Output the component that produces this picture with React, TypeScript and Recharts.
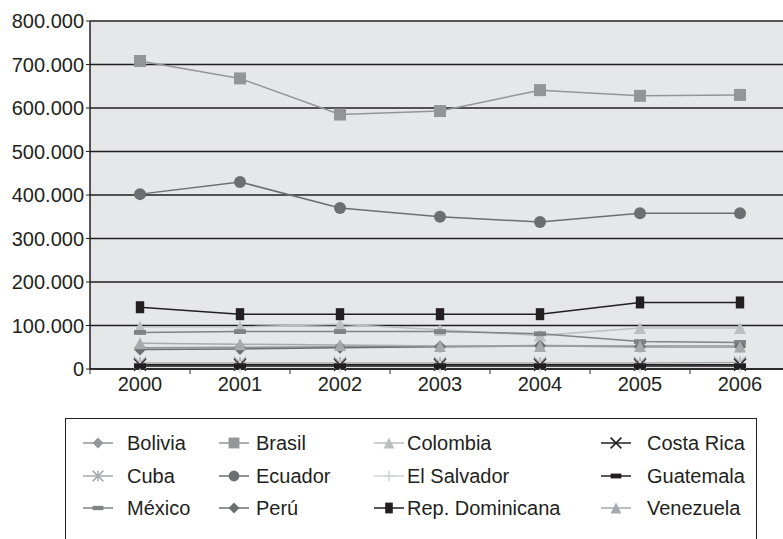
import { LineChart, Line, XAxis, YAxis, CartesianGrid, Legend } from 'recharts'

const YEARS = ['2000', '2001', '2002', '2003', '2004', '2005', '2006']
const Y_TICKS = [0, 100000, 200000, 300000, 400000, 500000, 600000, 700000, 800000]

const bolivia = [49000, 50000, 51000, 52000, 54000, 53000, 53000]
const brasil = [708000, 668000, 585000, 593000, 641000, 628000, 630000]
const colombia = [97000, 97000, 103000, 90000, 77000, 94000, 94000]
const costaRica = [10000, 10000, 10000, 10000, 10000, 10000, 10000]
const cuba = [14000, 14000, 14000, 14000, 14000, 14000, 15000]
const ecuador = [402000, 430000, 370000, 350000, 338000, 358000, 358000]
const elSalvador = [5000, 5000, 5000, 5000, 5000, 5000, 5000]
const guatemala = [7000, 7000, 7000, 7000, 7000, 7000, 7000]
const mexico = [84000, 86000, 86000, 86000, 81000, 63000, 61000]
const peru = [45000, 46000, 49000, 51000, 53000, 51000, 51000]
const repDominicana = [142000, 126000, 126000, 126000, 126000, 153000, 153000]
const venezuela = [59000, 57000, 55000, 53000, 53000, 53000, 52000]

const INK = '#231f20'
const FONT = "'Liberation Sans', Arial, sans-serif"

type Shape = 'diamond' | 'square' | 'triangle' | 'x' | 'star' | 'circle' | 'plus' | 'flat' | 'dash' | 'tall'

interface Serie {
  key: string
  name: string
  values: number[]
  color: string
  shape: Shape
}

const SERIES: Serie[] = [
  { key: 'bolivia', name: 'Bolivia', values: bolivia, color: '#939598', shape: 'diamond' },
  { key: 'brasil', name: 'Brasil', values: brasil, color: '#939598', shape: 'square' },
  { key: 'colombia', name: 'Colombia', values: colombia, color: '#bcbec0', shape: 'triangle' },
  { key: 'costaRica', name: 'Costa Rica', values: costaRica, color: INK, shape: 'x' },
  { key: 'cuba', name: 'Cuba', values: cuba, color: '#a7a9ac', shape: 'star' },
  { key: 'ecuador', name: 'Ecuador', values: ecuador, color: '#6d6e71', shape: 'circle' },
  { key: 'elSalvador', name: 'El Salvador', values: elSalvador, color: '#d1d3d4', shape: 'plus' },
  { key: 'guatemala', name: 'Guatemala', values: guatemala, color: INK, shape: 'flat' },
  { key: 'mexico', name: 'México', values: mexico, color: '#808285', shape: 'dash' },
  { key: 'peru', name: 'Perú', values: peru, color: '#6d6e71', shape: 'diamond' },
  { key: 'repDominicana', name: 'Rep. Dominicana', values: repDominicana, color: INK, shape: 'tall' },
  { key: 'venezuela', name: 'Venezuela', values: venezuela, color: '#a7a9ac', shape: 'triangle' },
]

const data = YEARS.map((year, i) => {
  const row: Record<string, string | number> = { year }
  SERIES.forEach((s) => {
    row[s.key] = s.values[i]
  })
  return row
})

// marker drawn around (cx, cy); k scales it down for the legend
function Marker({ shape, color, cx, cy, k = 1 }: { shape: Shape; color: string; cx: number; cy: number; k?: number }) {
  const s = 6 * k
  switch (shape) {
    case 'diamond':
      return <polygon points={`${cx},${cy - s} ${cx + s},${cy} ${cx},${cy + s} ${cx - s},${cy}`} fill={color} />
    case 'square':
      return <rect x={cx - s} y={cy - s} width={2 * s} height={2 * s} fill={color} />
    case 'triangle':
      return <polygon points={`${cx},${cy - s} ${cx + s},${cy + s} ${cx - s},${cy + s}`} fill={color} />
    case 'circle':
      return <circle cx={cx} cy={cy} r={s} fill={color} />
    case 'x':
      return (
        <g stroke={color} strokeWidth={1.5}>
          <line x1={cx - s} y1={cy - s} x2={cx + s} y2={cy + s} />
          <line x1={cx - s} y1={cy + s} x2={cx + s} y2={cy - s} />
        </g>
      )
    case 'plus':
      return (
        <g stroke={color} strokeWidth={1.5}>
          <line x1={cx - s} y1={cy} x2={cx + s} y2={cy} />
          <line x1={cx} y1={cy - s} x2={cx} y2={cy + s} />
        </g>
      )
    case 'star':
      return (
        <g stroke={color} strokeWidth={1.5}>
          <line x1={cx - s} y1={cy - s} x2={cx + s} y2={cy + s} />
          <line x1={cx - s} y1={cy + s} x2={cx + s} y2={cy - s} />
          <line x1={cx} y1={cy - s} x2={cx} y2={cy + s} />
        </g>
      )
    case 'flat':
      return <rect x={cx - s} y={cy - s * 0.45} width={2 * s} height={s * 0.9} fill={color} />
    case 'dash':
      return <rect x={cx - s} y={cy - s * 0.4} width={2 * s} height={s * 0.8} fill={color} />
    case 'tall':
      return <rect x={cx - s * 0.7} y={cy - s} width={s * 1.4} height={2 * s} fill={color} />
  }
  return null
}

const BAND = 100

function YearTick(props: any) {
  const { x, y, payload, index } = props
  return (
    <g>
      <line x1={x - BAND / 2} y1={y - 8} x2={x - BAND / 2} y2={y - 3} stroke={INK} />
      {index === YEARS.length - 1 && (
        <line x1={x + BAND / 2} y1={y - 8} x2={x + BAND / 2} y2={y - 3} stroke={INK} />
      )}
      <text x={x} y={y} dy="0.71em" textAnchor="middle" fill={INK} fontSize={20} fontFamily={FONT}>
        {payload.value}
      </text>
    </g>
  )
}

const fmt = (v: number) => (v === 0 ? '0' : `${v / 1000}.000`)

const COL_SYMBOL = [17, 153, 308, 535]
const COL_TEXT = [61, 190, 341, 581]
const ROW_Y = [24, 57, 89]

function LegendBox() {
  return (
    <div
      style={{
        position: 'relative',
        width: '100%',
        height: '100%',
        boxSizing: 'border-box',
        border: `1.5px solid ${INK}`,
        background: '#fff',
        fontFamily: FONT,
        fontSize: 20,
        color: INK,
      }}
    >
      {SERIES.map((s, i) => {
        const col = i % 4
        const row = Math.floor(i / 4)
        return (
          <div key={s.key}>
            <svg
              width={30}
              height={16}
              style={{ position: 'absolute', left: COL_SYMBOL[col], top: ROW_Y[row] - 8 }}
            >
              <line x1={0} y1={8} x2={30} y2={8} stroke={s.color} strokeWidth={1.5} />
              <Marker shape={s.shape} color={s.color} cx={15} cy={8} k={0.9} />
            </svg>
            <span
              style={{
                position: 'absolute',
                left: COL_TEXT[col],
                top: ROW_Y[row] - 12,
                lineHeight: '24px',
                whiteSpace: 'nowrap',
              }}
            >
              {s.name}
            </span>
          </div>
        )
      })}
    </div>
  )
}

export default function App() {
  return (
    <div
      style={{
        position: 'absolute',
        left: 0,
        top: 0,
        width: 783,
        height: 539,
        overflow: 'hidden',
        background: '#fff',
      }}
    >
      <LineChart
        width={800}
        height={560}
        data={data}
        margin={{ top: 21, right: 10, bottom: 36, left: 0 }}
      >
        <CartesianGrid vertical={false} stroke={INK} strokeWidth={1.5} fill="#e6e7e8" />
        <XAxis
          dataKey="year"
          height={30}
          padding={{ left: BAND / 2, right: BAND / 2 }}
          tickLine={false}
          axisLine={{ stroke: INK, strokeWidth: 1.5 }}
          tick={<YearTick />}
          interval={0}
        />
        <YAxis
          width={90}
          domain={[0, 800000]}
          ticks={Y_TICKS}
          tickFormatter={fmt}
          tickSize={4}
          tickMargin={2}
          axisLine={{ stroke: INK, strokeWidth: 1.5 }}
          tickLine={{ stroke: INK }}
          tick={{ fill: INK, fontSize: 20, fontFamily: FONT }}
        />
        <Legend
          content={() => <LegendBox />}
          wrapperStyle={{ left: 65, top: 418, width: 692, height: 125 }}
        />
        {SERIES.map((s) => (
          <Line
            key={s.key}
            dataKey={s.key}
            name={s.name}
            stroke={s.color}
            strokeWidth={1.5}
            isAnimationActive={false}
            activeDot={false}
            dot={(p: any) => <Marker key={`${s.key}-${p.index}`} shape={s.shape} color={s.color} cx={p.cx} cy={p.cy} />}
          />
        ))}
      </LineChart>
    </div>
  )
}
